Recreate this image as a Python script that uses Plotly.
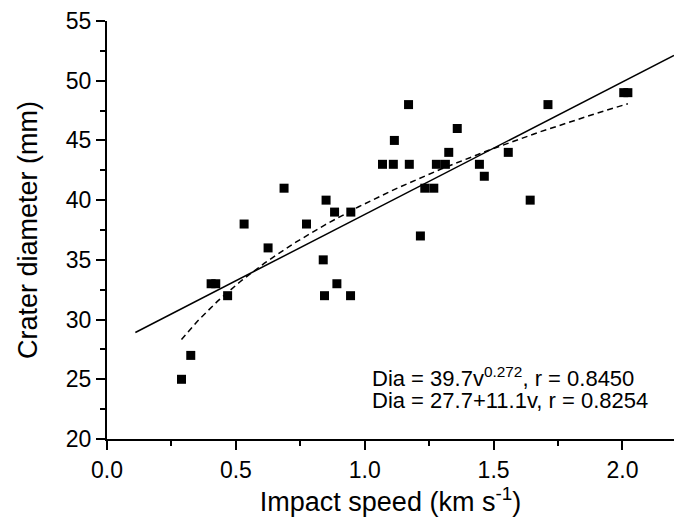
import numpy as np
import plotly.graph_objects as go

speed = [0.289, 0.325, 0.404, 0.422, 0.468, 0.532, 0.625, 0.687, 0.774, 0.839,
         0.844, 0.850, 0.883, 0.892, 0.945, 0.946, 1.069, 1.111, 1.115, 1.170,
         1.173, 1.216, 1.233, 1.268, 1.278, 1.313, 1.326, 1.359, 1.445, 1.464,
         1.557, 1.642, 1.711, 2.005, 2.021]
diameter = [25, 27, 33, 33, 32, 38, 36, 41, 38, 35,
            32, 40, 39, 33, 32, 39, 43, 43, 45, 48,
            43, 37, 41, 41, 43, 43, 44, 46, 43, 42,
            44, 40, 48, 49, 49]

# fit coefficients (from the chart's annotation)
power_a, power_b = 39.7, 0.272
lin_a, lin_b = 27.7, 11.1
lin_range = [0.11, 2.2]

x_ticks = [0.0, 0.5, 1.0, 1.5, 2.0]
y_ticks = [20, 25, 30, 35, 40, 45, 50, 55]

FONT = "Liberation Sans, Arial, sans-serif"

xp = np.linspace(min(speed), max(speed), 200)
yp = power_a * xp ** power_b
xl = np.array(lin_range)
yl = lin_a + lin_b * xl

fig = go.Figure()
fig.add_trace(go.Scatter(x=xl, y=yl, mode="lines",
                         line=dict(color="black", width=1.5), showlegend=False))
fig.add_trace(go.Scatter(x=xp, y=yp, mode="lines",
                         line=dict(color="black", width=1.5, dash="6px,4px"),
                         showlegend=False))
fig.add_trace(go.Scatter(x=speed, y=diameter, mode="markers",
                         marker=dict(symbol="square", size=9, color="black",
                                     line=dict(width=0)),
                         showlegend=False))

fig.add_annotation(x=1.02, y=25.2, xref="x", yref="y", xanchor="left",
                   yanchor="middle", showarrow=False,
                   text="Dia = 39.7v<sup>0.272</sup>, r = 0.8450",
                   font=dict(family=FONT, size=22, color="black"))
fig.add_annotation(x=1.02, y=23.2, xref="x", yref="y", xanchor="left",
                   yanchor="middle", showarrow=False,
                   text="Dia = 27.7+11.1v, r = 0.8254",
                   font=dict(family=FONT, size=22, color="black"))

# the page body has an 8px margin, so the figure is offset by (8, 8)
fig.update_layout(
    width=675, height=510,
    margin=dict(l=99, r=9, t=13, b=79),
    paper_bgcolor="white", plot_bgcolor="white",
    font=dict(family=FONT, size=23, color="black"),
)
fig.update_xaxes(
    range=[0, 2.2], tickvals=x_ticks, ticktext=[f"{v:.1f}" for v in x_ticks],
    showgrid=False, zeroline=False, showline=True, linecolor="black", linewidth=2,
    ticks="outside", ticklen=9, tickwidth=1.5, tickcolor="black",
    minor=dict(dtick=0.25, tick0=0, ticks="outside", ticklen=5, tickwidth=1.5,
               tickcolor="black", showgrid=False),
    title=dict(text="Impact speed (km s<sup>-1</sup>)", font=dict(size=27), standoff=6),
    tickfont=dict(size=23), automargin=False,
)
fig.update_yaxes(
    range=[20, 55], tickvals=y_ticks,
    showgrid=False, zeroline=False, showline=True, linecolor="black", linewidth=2,
    ticks="outside", ticklen=9, tickwidth=1.5, tickcolor="black",
    minor=dict(dtick=2.5, tick0=20, ticks="outside", ticklen=5, tickwidth=1.5,
               tickcolor="black", showgrid=False),
    title=dict(text="Crater diameter (mm)", font=dict(size=27), standoff=20),
    tickfont=dict(size=23), automargin=False,
)

fig.write_html("out.html")
